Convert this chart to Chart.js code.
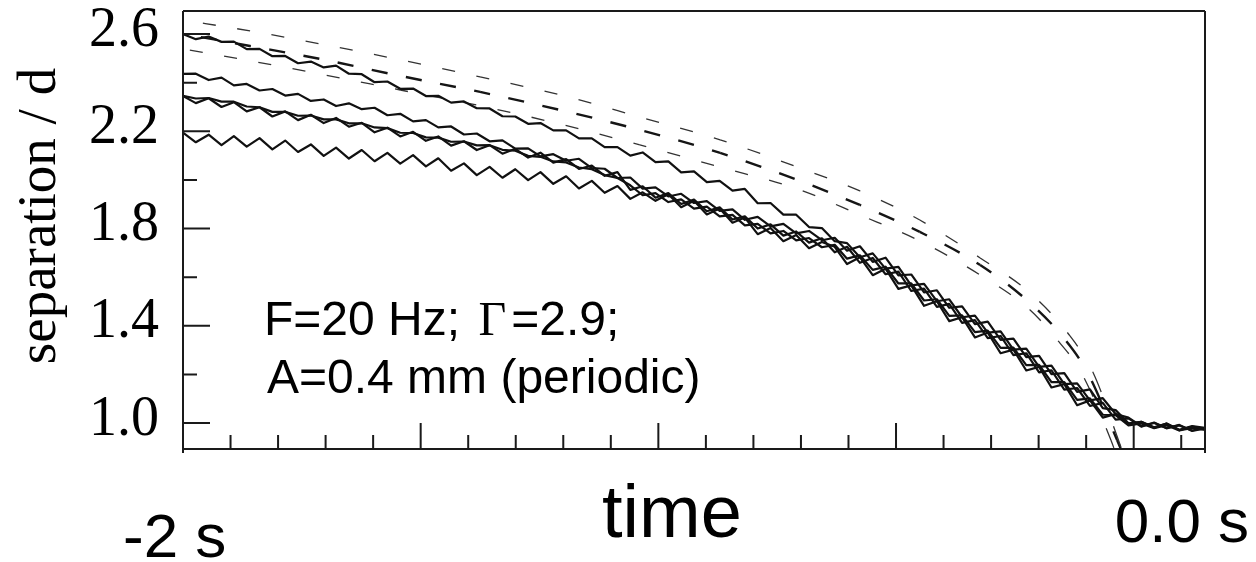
<!DOCTYPE html>
<html><head><meta charset="utf-8">
<script src="https://cdn.jsdelivr.net/npm/chart.js@4.4.1/dist/chart.umd.min.js"></script>
<style>html,body{margin:0;padding:0;background:#fff;} #wrap{width:1256px;height:562px;position:relative;}</style>
</head><body><div id="wrap"><canvas id="c"></canvas></div>
<script>
// ---- data (time in s, separation in units of d) ----
const TIME = [-2.000,-1.973,-1.946,-1.919,-1.893,-1.866,-1.839,-1.812,-1.785,-1.758,
-1.731,-1.704,-1.678,-1.651,-1.624,-1.597,-1.570,-1.543,-1.516,-1.489,
-1.463,-1.436,-1.409,-1.382,-1.355,-1.328,-1.301,-1.274,-1.248,-1.221,
-1.194,-1.167,-1.140,-1.113,-1.086,-1.059,-1.033,-1.006,-0.979,-0.952,
-0.925,-0.898,-0.871,-0.844,-0.818,-0.791,-0.764,-0.737,-0.710,-0.683,
-0.656,-0.629,-0.603,-0.576,-0.549,-0.522,-0.495,-0.468,-0.441,-0.414,
-0.388,-0.361,-0.334,-0.307,-0.280,-0.253,-0.226,-0.199,-0.173,-0.146,
-0.119,-0.092,-0.065,-0.038,-0.011,0.016,0.043,0.069,0.096,0.123,0.150];

const RUN_A = [2.600,2.579,2.590,2.568,2.569,2.538,2.539,2.509,2.510,2.480,
2.487,2.463,2.470,2.437,2.435,2.402,2.405,2.375,2.376,2.345,
2.346,2.318,2.323,2.295,2.294,2.262,2.261,2.231,2.234,2.204,
2.204,2.171,2.171,2.135,2.135,2.100,2.113,2.073,2.076,2.031,
2.035,1.991,1.996,1.956,1.963,1.904,1.905,1.857,1.857,1.806,
1.802,1.748,1.740,1.682,1.698,1.635,1.642,1.566,1.572,1.501,
1.509,1.435,1.442,1.372,1.377,1.302,1.306,1.231,1.236,1.160,
1.163,1.093,1.102,1.037,1.022,0.987,1.000,0.980,0.990,0.969,0.980];

const RUN_B = [2.436,2.437,2.411,2.421,2.389,2.395,2.368,2.374,2.347,2.354,
2.325,2.331,2.304,2.315,2.291,2.297,2.266,2.272,2.241,2.246,
2.216,2.220,2.187,2.191,2.159,2.163,2.129,2.130,2.097,2.106,
2.079,2.087,2.049,2.046,2.008,2.010,1.964,1.969,1.932,1.943,
1.905,1.913,1.873,1.879,1.836,1.848,1.809,1.819,1.780,1.790,
1.752,1.762,1.709,1.727,1.663,1.680,1.607,1.611,1.537,1.546,
1.474,1.480,1.407,1.417,1.342,1.347,1.271,1.276,1.201,1.205,
1.128,1.138,1.061,1.053,0.999,1.005,0.982,0.998,0.972,0.987,0.980];

const RUN_C = [2.345,2.316,2.336,2.300,2.320,2.282,2.299,2.261,2.282,2.246,
2.268,2.234,2.255,2.219,2.235,2.196,2.215,2.179,2.198,2.161,
2.179,2.141,2.159,2.123,2.143,2.108,2.128,2.092,2.112,2.071,
2.086,2.045,2.059,2.017,2.032,1.959,1.974,1.927,1.946,1.901,
1.919,1.871,1.887,1.837,1.850,1.800,1.817,1.771,1.788,1.742,
1.760,1.702,1.725,1.659,1.679,1.612,1.623,1.543,1.553,1.478,
1.490,1.412,1.423,1.349,1.358,1.279,1.287,1.208,1.217,1.137,
1.144,1.070,1.083,1.014,1.019,0.985,1.002,0.978,0.992,0.967,0.978];

const RUN_D = [2.346,2.335,2.337,2.322,2.322,2.302,2.299,2.280,2.280,2.264,
2.265,2.249,2.249,2.233,2.233,2.216,2.213,2.194,2.193,2.175,
2.174,2.157,2.158,2.142,2.143,2.124,2.120,2.099,2.095,2.076,
2.072,2.051,2.044,2.020,2.008,1.978,1.937,1.946,1.909,1.920,
1.882,1.890,1.850,1.856,1.813,1.819,1.780,1.790,1.751,1.761,
1.723,1.733,1.676,1.690,1.630,1.643,1.574,1.574,1.504,1.509,
1.441,1.443,1.374,1.380,1.309,1.310,1.238,1.239,1.168,1.168,
1.095,1.101,1.034,1.032,0.990,0.998,0.979,0.991,0.969,0.980,0.972];

const RUN_E = [2.195,2.155,2.186,2.143,2.180,2.137,2.172,2.126,2.162,2.115,
2.146,2.099,2.133,2.088,2.123,2.077,2.111,2.067,2.102,2.056,
2.089,2.038,2.068,2.020,2.054,2.009,2.044,1.999,2.032,1.984,
2.015,1.965,1.996,1.947,1.975,1.922,1.949,1.914,1.941,1.888,
1.914,1.858,1.882,1.824,1.845,1.777,1.802,1.748,1.773,1.719,
1.745,1.725,1.654,1.682,1.608,1.635,1.552,1.566,1.482,1.501,
1.419,1.435,1.352,1.372,1.287,1.302,1.216,1.231,1.146,1.160,
1.073,1.093,1.022,1.037,0.997,1.005,0.980,0.998,0.970,0.985,0.976];

// dashed (predicted) curves
const PRED_TOP_T = [-2.000,-1.859,-1.712,-1.543,-1.375,-1.207,-1.039,-0.870,-0.702,-0.576,-0.450,-0.323,-0.218,-0.134,-0.086,-0.023];
const PRED_TOP_V = [2.658,2.613,2.560,2.494,2.424,2.350,2.259,2.165,2.049,1.955,1.835,1.679,1.535,1.358,1.210,0.880];
const PRED_MID_T = [-2.000,-1.859,-1.712,-1.543,-1.375,-1.207,-1.039,-0.870,-0.702,-0.576,-0.450,-0.323,-0.218,-0.149,-0.098,-0.035,-0.020];
const PRED_MID_V = [2.601,2.551,2.498,2.428,2.362,2.288,2.206,2.111,1.996,1.897,1.786,1.650,1.494,1.354,1.210,0.930,0.860];
const PRED_LOW_T = [-2.000,-1.859,-1.712,-1.543,-1.375,-1.207,-1.039,-0.870,-0.702,-0.576,-0.450,-0.323,-0.218,-0.166,-0.111,-0.048,-0.029];
const PRED_LOW_V = [2.539,2.490,2.436,2.370,2.305,2.230,2.144,2.053,1.959,1.856,1.749,1.609,1.465,1.354,1.210,0.930,0.827];

// axes
const X_MIN = -2.0, X_MAX = 0.15;
const Y_MIN = 0.893, Y_MAX = 2.695;
const Y_MAJOR = [1.0, 1.4, 1.8, 2.2, 2.6];
const Y_MINOR = [1.2, 1.6, 2.0, 2.4];
const X_MAJOR = [-2.0, -1.5, -1.0, -0.5, 0.0];
const X_MINOR = [-1.9,-1.8,-1.7,-1.6,-1.4,-1.3,-1.2,-1.1,-0.9,-0.8,-0.7,-0.6,-0.4,-0.3,-0.2,-0.1,0.1];

// texts
const Y_TITLE = 'separation / d';
const X_TITLE = 'time';
const X_LEFT_LABEL = '-2 s';
const X_RIGHT_LABEL = '0.0 s';
const NOTE_1A = 'F=20 Hz; ', NOTE_1G = 'Γ', NOTE_1B = '=2.9;';
const NOTE_2 = 'A=0.4 mm (periodic)';

const pts = (xs, ys) => xs.map((x, i) => ({x: x, y: ys[i]}));

const solid = (vals) => ({data: pts(TIME, vals), borderColor: '#111', borderWidth: 2.2,
  pointRadius: 0, tension: 0, borderJoinStyle: 'round', fill: false});

// dash pattern that stretches a little on steep parts and stays continuous between points
function segGeom(a, b) {
  const dx = b.x - a.x, dy = b.y - a.y;
  const L = Math.hypot(dx, dy);
  return {L: L, g: Math.sqrt(L / Math.max(Math.abs(dx), 1e-6))};
}
function dashSegment(dash, period, phase0) {
  return {
    borderDash: c => { const s = segGeom(c.p0, c.p1); return [dash * s.g, (period - dash) * s.g]; },
    borderDashOffset: c => {
      const P = c.chart.getDatasetMeta(c.datasetIndex).data;
      let ph = phase0;
      for (let j = 0; j < c.p0DataIndex; j++) { const s = P[j] && P[j + 1] ? segGeom(P[j], P[j + 1]) : {L: 0, g: 1}; ph += s.L / (period * s.g); }
      const s0 = segGeom(c.p0, c.p1);
      return (ph - Math.floor(ph)) * period * s0.g;
    }
  };
}
const dashed = (ts, vs, w, col, dash, period, phase0) => ({data: pts(ts, vs), borderColor: col, borderWidth: w,
  borderDash: [dash, period - dash], segment: dashSegment(dash, period, phase0),
  pointRadius: 0, cubicInterpolationMode: 'monotone', fill: false});

const decor = {
  id: 'decor',
  afterDatasetsDraw(chart) {
    const {ctx, chartArea: a, scales: {x, y}} = chart;
    ctx.save();
    ctx.strokeStyle = '#1a1a1a';
    ctx.lineWidth = 2;
    ctx.beginPath();
    ctx.moveTo(a.left, a.top); ctx.lineTo(a.right, a.top);
    ctx.moveTo(a.left, a.top); ctx.lineTo(a.left, a.bottom + 4);
    ctx.moveTo(a.right, a.top); ctx.lineTo(a.right, a.bottom + 4);
    ctx.moveTo(a.left, a.bottom); ctx.lineTo(a.right, a.bottom);
    Y_MAJOR.forEach(v => { const p = y.getPixelForValue(v); ctx.moveTo(a.left, p); ctx.lineTo(a.left + 27, p); });
    Y_MINOR.forEach(v => { const p = y.getPixelForValue(v); ctx.moveTo(a.left, p); ctx.lineTo(a.left + 14, p); });
    X_MAJOR.forEach(v => { const p = x.getPixelForValue(v); ctx.moveTo(p, a.bottom); ctx.lineTo(p, a.bottom - 26); });
    X_MINOR.forEach(v => { const p = x.getPixelForValue(v); ctx.moveTo(p, a.bottom); ctx.lineTo(p, a.bottom - 14); });
    ctx.stroke();
    ctx.restore();
  },
  afterDraw(chart) {
    const {ctx, scales: {x}} = chart;
    ctx.save();
    ctx.fillStyle = '#000';
    // y title
    ctx.save();
    ctx.translate(55, 216);
    ctx.rotate(-Math.PI / 2);
    ctx.font = '55px "Liberation Serif"';
    ctx.textAlign = 'center';
    ctx.textBaseline = 'alphabetic';
    ctx.fillText(Y_TITLE, 0, 0);
    ctx.restore();
    // x texts
    ctx.textAlign = 'left';
    ctx.textBaseline = 'alphabetic';
    ctx.font = '62px "Liberation Sans"';
    ctx.fillText(X_LEFT_LABEL, x.getPixelForValue(-2) - 60, 557);
    ctx.fillText(X_RIGHT_LABEL, x.getPixelForValue(0) - 19, 542);
    ctx.font = '74px "Liberation Sans"';
    ctx.fillText(X_TITLE, 602, 537);
    // note
    const nx = 264, ny1 = 335, ny2 = 393;
    ctx.font = '48px "Liberation Sans"';
    ctx.fillText(NOTE_1A, nx, ny1);
    let cx = nx + ctx.measureText(NOTE_1A).width + 5;
    ctx.font = '48px "Liberation Serif"';
    ctx.fillText(NOTE_1G, cx, ny1);
    cx += ctx.measureText(NOTE_1G).width + 5;
    ctx.font = '48px "Liberation Sans"';
    ctx.fillText(NOTE_1B, cx, ny1);
    ctx.fillText(NOTE_2, 267, ny2);
    ctx.restore();
  }
};

new Chart(document.getElementById('c'), {
  type: 'line',
  data: {
    datasets: [
      solid(RUN_A), solid(RUN_B), solid(RUN_C), solid(RUN_D), solid(RUN_E),
      dashed(PRED_TOP_T, PRED_TOP_V, 1.3, '#333', 13, 34.5, 0.42),
      dashed(PRED_MID_T, PRED_MID_V, 2.4, '#151515', 16, 34.5, 0.48),
      dashed(PRED_LOW_T, PRED_LOW_V, 1.3, '#333', 13, 34.5, 0.80)
    ]
  },
  options: {
    responsive: true, maintainAspectRatio: false, animation: false, devicePixelRatio: 1,
    layout: {padding: {left: 0, top: 11, right: 51, bottom: 113}},
    plugins: {legend: {display: false}, tooltip: {enabled: false}},
    scales: {
      x: {type: 'linear', min: X_MIN, max: X_MAX, display: false},
      y: {type: 'linear', min: Y_MIN, max: Y_MAX, position: 'left',
        grid: {display: false, drawTicks: false}, border: {display: false},
        afterBuildTicks: s => { s.ticks = Y_MAJOR.map(v => ({value: v})); },
        afterFit: s => { s.width = 183; s.paddingTop = 0; s.paddingBottom = 0; },
        ticks: {padding: 24, labelOffset: -3, color: '#000',
          font: {family: 'Liberation Serif', size: 56},
          callback: v => Number(v).toFixed(1)}
      }
    }
  },
  plugins: [decor]
});
</script></body></html>
